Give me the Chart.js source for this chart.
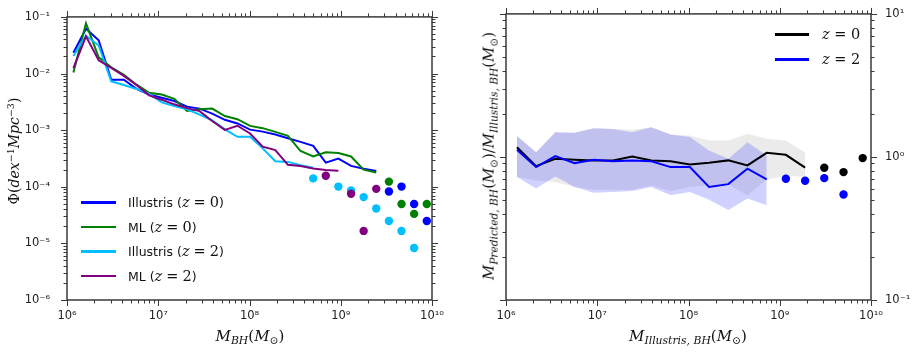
<!DOCTYPE html>
<html><head><meta charset="utf-8">
<script src="https://cdn.jsdelivr.net/npm/chart.js@4.4.0/dist/chart.umd.min.js"></script>
<style>
html,body{margin:0;padding:0;background:#fff;}
#wrap{position:relative;width:915px;height:355px;overflow:hidden;}
canvas{position:absolute;top:0;}
.t{position:absolute;font-family:'DejaVu Serif',serif;font-size:14px;color:#111;white-space:nowrap;line-height:1;}
.t i{font-style:italic;}
.t sub{font-size:72%;vertical-align:-0.35em;line-height:0;}
.t sup{font-size:68%;vertical-align:0.55em;line-height:0;}
.rot{transform:translate(-50%,-50%) rotate(-90deg);}
.ctr{transform:translate(-50%,-50%);}
.ln{position:absolute;height:2.5px;}
.lt{position:absolute;font-family:'DejaVu Sans',sans-serif;font-size:12.5px;color:#111;white-space:nowrap;transform:translateY(-50%);line-height:1;}
.m{font-family:'DejaVu Serif',serif;font-size:14.5px;}
.m i{font-style:italic;}
.eq{margin:0 4px;}
</style>
</head><body>
<div id="wrap">
  <canvas id="c1" width="460" height="355" style="left:0px"></canvas>
  <canvas id="c2" width="455" height="355" style="left:460px"></canvas>

  <div class="t rot" style="left:14px;top:151px;font-size:14px">Φ(<i>dex</i><sup>−1</sup><i>Mpc</i><sup>−3</sup>)</div>
  <div class="t ctr" style="left:250px;top:336px;font-size:15px"><i>M</i><sub><i>BH</i></sub>(<i>M</i><sub>⊙</sub>)</div>
  <div class="t rot" style="left:489px;top:156px;font-size:14.8px"><i>M</i><sub><i>Predicted, BH</i></sub>(<i>M</i><sub>⊙</sub>)/<i>M</i><sub><i>Illustris, BH</i></sub>(<i>M</i><sub>⊙</sub>)</div>
  <div class="t ctr" style="left:688px;top:336px;font-size:15px"><i>M</i><sub><i>Illustris, BH</i></sub>(<i>M</i><sub>⊙</sub>)</div>

  <div class="ln" style="left:81px;top:201px;width:35px;background:#0000ff"></div>
  <div class="lt" style="left:128px;top:202px">Illustris (<span class="m"><i>z</i><span class="eq">=</span>0</span>)</div>
  <div class="ln" style="left:81px;top:225.5px;width:35px;background:#008000"></div>
  <div class="lt" style="left:128px;top:226.5px">ML (<span class="m"><i>z</i><span class="eq">=</span>0</span>)</div>
  <div class="ln" style="left:81px;top:250px;width:35px;background:#00bfff"></div>
  <div class="lt" style="left:128px;top:251px">Illustris (<span class="m"><i>z</i><span class="eq">=</span>2</span>)</div>
  <div class="ln" style="left:81px;top:274.5px;width:35px;background:#800080"></div>
  <div class="lt" style="left:128px;top:275.5px">ML (<span class="m"><i>z</i><span class="eq">=</span>2</span>)</div>

  <div class="ln" style="left:775px;top:33px;width:34px;background:#000"></div>
  <div class="lt m" style="left:822px;top:34px;font-size:14.5px"><i>z</i> = 0</div>
  <div class="ln" style="left:775px;top:58px;width:34px;background:#0000ff"></div>
  <div class="lt m" style="left:822px;top:59px;font-size:14.5px"><i>z</i> = 2</div>
</div>
<script>
// ---------- Axis ticks ----------
const massTickValues = [1e6, 1e7, 1e8, 1e9, 1e10];
const massTickLabels = ['10⁶', '10⁷', '10⁸', '10⁹', '10¹⁰'];
const phiTickValues = [1e-6, 1e-5, 1e-4, 1e-3, 1e-2, 1e-1];
const phiTickLabels = ['10⁻⁶', '10⁻⁵', '10⁻⁴', '10⁻³', '10⁻²', '10⁻¹'];
const ratioTickValues = [0.1, 1, 10];
const ratioTickLabels = ['10⁻¹', '10⁰', '10¹'];

// ---------- Left panel: BH mass function (log10 values) ----------
const massLogBins = [6.07, 6.208, 6.347, 6.485, 6.623, 6.762, 6.9, 7.038, 7.176, 7.315, 7.453, 7.591, 7.73,
  7.868, 8.006, 8.145, 8.283, 8.421, 8.559, 8.698, 8.836, 8.974, 9.113, 9.251, 9.389];
const illustrisZ0LogPhi = [-1.632, -1.209, -1.413, -2.110, -2.110, -2.272, -2.371, -2.429, -2.486, -2.585, -2.620, -2.707, -2.817,
  -2.882, -2.991, -3.026, -3.078, -3.143, -3.207, -3.277, -3.573, -3.503, -3.631, -3.683, -3.721];
const mlZ0LogPhi = [-1.981, -1.113, -1.714, -1.889, -2.023, -2.197, -2.341, -2.371, -2.446, -2.660, -2.629, -2.620, -2.751,
  -2.807, -2.925, -2.965, -3.030, -3.099, -3.369, -3.465, -3.392, -3.404, -3.465, -3.697, -3.749];
const illustrisZ2LogPhi = [-1.692, -1.334, -1.505, -2.138, -2.202, -2.272, -2.359, -2.509, -2.573, -2.632, -2.725, -2.829, -2.986,
  -3.117, -3.117, -3.322, -3.549, -3.561, -3.618, -3.666];
const mlZ2LogPhi = [-1.906, -1.343, -1.767, -1.901, -2.042, -2.202, -2.385, -2.463, -2.544, -2.611, -2.664, -2.838, -2.995,
  -2.922, -3.059, -3.291, -3.352, -3.613, -3.634, -3.678, -3.706, -3.718];

// isolated points (low-count bins)
const illustrisZ0DotLogM = [9.528, 9.666, 9.804, 9.943];
const illustrisZ0DotLogPhi = [-4.084, -3.997, -4.305, -4.606];
const mlZ0DotLogM = [9.528, 9.666, 9.804, 9.943];
const mlZ0DotLogPhi = [-3.909, -4.305, -4.479, -4.305];
const illustrisZ2DotLogM = [8.698, 8.974, 9.113, 9.251, 9.389, 9.528, 9.666, 9.804];
const illustrisZ2DotLogPhi = [-3.852, -3.997, -4.066, -4.183, -4.385, -4.606, -4.780, -5.082];
const mlZ2DotLogM = [8.836, 9.113, 9.251, 9.389];
const mlZ2DotLogPhi = [-3.805, -4.124, -4.780, -4.037];

// ---------- Right panel: predicted / true mass ratio (log10 values) ----------
const ratioLogBins = [6.12, 6.33, 6.54, 6.752, 6.962, 7.172, 7.383, 7.594, 7.804, 8.015, 8.225, 8.436, 8.646, 8.857, 9.067, 9.278];
const ratioZ0Log = [0.068, -0.064, -0.013, -0.02, -0.024, -0.024, 0.003, -0.024, -0.03, -0.052, -0.04, -0.024, -0.059, 0.029, 0.015, -0.075];
const ratioZ0UpperLog = [0.146, 0.033, 0.173, 0.17, 0.2, 0.196, 0.19, 0.208, 0.157, 0.15, 0.115, 0.115, 0.162, 0.127, 0.115, 0.033];
const ratioZ0LowerLog = [-0.14, -0.164, -0.175, -0.21, -0.23, -0.23, -0.23, -0.2, -0.24, -0.21, -0.2, -0.19, -0.27, -0.16, -0.13, -0.14];
const ratioZ2Log = [0.05, -0.071, 0.006, -0.043, -0.02, -0.03, -0.024, -0.03, -0.071, -0.071, -0.21, -0.19, -0.082, -0.157];
const ratioZ2UpperLog = [0.146, 0.033, 0.173, 0.17, 0.2, 0.196, 0.173, 0.208, 0.157, 0.14, 0.045, -0.012, 0.103, 0.01];
const ratioZ2LowerLog = [-0.14, -0.22, -0.136, -0.21, -0.25, -0.245, -0.238, -0.21, -0.268, -0.245, -0.30, -0.37, -0.29, -0.338];
const ratioZ0DotLogM = [9.488, 9.699, 9.909];
const ratioZ0DotLog = [-0.075, -0.106, -0.008];
const ratioZ2DotLogM = [9.067, 9.278, 9.488, 9.699];
const ratioZ2DotLog = [-0.152, -0.166, -0.148, -0.263];

// ---------- helpers ----------
const pts = (logX, logY) => logY.map((v, i) => ({ x: Math.pow(10, logX[i]), y: Math.pow(10, v) }));

function minorVals(min, max) {
  const out = [];
  for (let e = Math.floor(Math.log10(min)); e < Math.ceil(Math.log10(max)); e++)
    for (let k = 2; k <= 9; k++) { const v = k * Math.pow(10, e); if (v > min * 1.0001 && v < max * 0.9999) out.push(v); }
  return out;
}

const framePlugin = {
  id: 'frame',
  afterDraw(chart) {
    const { ctx, chartArea: a } = chart;
    const xs = chart.scales.x, ys = chart.scales.y;
    ctx.save();
    ctx.strokeStyle = '#3a3a3a';
    ctx.lineWidth = 1;
    const seg = (x1, y1, x2, y2) => { ctx.beginPath(); ctx.moveTo(x1, y1); ctx.lineTo(x2, y2); ctx.stroke(); };
    const MAJ = 6, MIN = 3.5;
    const xt = (v, len) => { const p = Math.round(xs.getPixelForValue(v)) + 0.5; seg(p, a.bottom, p, a.bottom + len); seg(p, a.top, p, a.top - len); };
    const yt = (v, len) => { const p = Math.round(ys.getPixelForValue(v)) + 0.5; seg(a.left, p, a.left - len, p); seg(a.right, p, a.right + len, p); };
    xs.ticks.forEach(t => xt(t.value, MAJ));
    minorVals(xs.min, xs.max).forEach(v => xt(v, MIN));
    ys.ticks.forEach(t => yt(t.value, MAJ));
    minorVals(ys.min, ys.max).forEach(v => yt(v, MIN));
    ctx.lineWidth = 1.5;
    ctx.strokeRect(a.left, a.top, a.right - a.left, a.bottom - a.top);
    ctx.restore();
  }
};

const tickFont = { family: "'DejaVu Sans', sans-serif", size: 11.5 };

function logAxis(opts) {
  return {
    type: 'logarithmic',
    position: opts.position,
    min: opts.min, max: opts.max,
    grid: { display: false, drawTicks: true, tickLength: opts.tl },
    border: { display: false },
    afterBuildTicks: (s) => { s.ticks = opts.values.map(v => ({ value: v })); },
    afterFit: (s) => { if (opts.width !== undefined) s.width = opts.width; if (opts.height !== undefined) s.height = opts.height; },
    ticks: {
      autoSkip: false, maxRotation: 0, minRotation: 0, padding: opts.pad,
      color: '#222', font: tickFont,
      callback: (v, i) => opts.labels[i]
    }
  };
}

const baseOpts = {
  responsive: false, animation: false, events: [],
  plugins: { legend: { display: false }, tooltip: { enabled: false }, filler: { drawTime: 'beforeDatasetsDraw' } },
  elements: { line: { tension: 0 } }
};

const lineDs = (data, color, order, w) => ({ data, borderColor: color, backgroundColor: color, borderWidth: w, pointRadius: 0, fill: false, order });
const dotDs = (data, color, order) => ({ data, showLine: false, borderWidth: 0, pointRadius: 4.2, pointBackgroundColor: color, pointBorderColor: color, backgroundColor: color, order });

// ---------- Left chart ----------
new Chart(document.getElementById('c1'), {
  type: 'line',
  data: {
    datasets: [
      lineDs(pts(massLogBins, illustrisZ0LogPhi), '#0000ff', 8, 2),
      lineDs(pts(massLogBins, mlZ0LogPhi), '#008000', 7, 2),
      lineDs(pts(massLogBins, illustrisZ2LogPhi), '#00bfff', 6, 2),
      lineDs(pts(massLogBins, mlZ2LogPhi), '#800080', 5, 2),
      dotDs(pts(illustrisZ0DotLogM, illustrisZ0DotLogPhi), '#0000ff', 4),
      dotDs(pts(mlZ0DotLogM, mlZ0DotLogPhi), '#008000', 3),
      dotDs(pts(illustrisZ2DotLogM, illustrisZ2DotLogPhi), '#00bfff', 2),
      dotDs(pts(mlZ2DotLogM, mlZ2DotLogPhi), '#800080', 1)
    ]
  },
  options: Object.assign({}, baseOpts, {
    layout: { padding: { left: 0, right: 28, top: 13, bottom: 0 } },
    scales: {
      x: logAxis({ position: 'bottom', min: 1e6, max: 1e10, values: massTickValues, labels: massTickLabels, tl: 7, pad: 2, height: 55 }),
      y: logAxis({ position: 'left', min: 1e-6, max: 1e-1, values: phiTickValues, labels: phiTickLabels, tl: 7, pad: 10, width: 67 })
    }
  }),
  plugins: [framePlugin]
});

// ---------- Right chart ----------
new Chart(document.getElementById('c2'), {
  type: 'line',
  data: {
    datasets: [
      { data: pts(ratioLogBins, ratioZ0UpperLog), borderWidth: 0, pointRadius: 0, fill: '+1', backgroundColor: 'rgba(0,0,0,0.08)', borderColor: 'rgba(0,0,0,0)', order: 20 },
      { data: pts(ratioLogBins, ratioZ0LowerLog), borderWidth: 0, pointRadius: 0, fill: false, borderColor: 'rgba(0,0,0,0)', order: 19 },
      { data: pts(ratioLogBins, ratioZ2UpperLog), borderWidth: 0, pointRadius: 0, fill: '+1', backgroundColor: 'rgba(0,0,255,0.18)', borderColor: 'rgba(0,0,0,0)', order: 18 },
      { data: pts(ratioLogBins, ratioZ2LowerLog), borderWidth: 0, pointRadius: 0, fill: false, borderColor: 'rgba(0,0,0,0)', order: 17 },
      lineDs(pts(ratioLogBins, ratioZ0Log), '#000000', 6, 2),
      lineDs(pts(ratioLogBins, ratioZ2Log), '#0000ff', 5, 2),
      dotDs(pts(ratioZ0DotLogM, ratioZ0DotLog), '#000000', 4),
      dotDs(pts(ratioZ2DotLogM, ratioZ2DotLog), '#0000ff', 3)
    ]
  },
  options: Object.assign({}, baseOpts, {
    layout: { padding: { left: 46, right: 0, top: 13, bottom: 0 } },
    scales: {
      x: logAxis({ position: 'bottom', min: 1e6, max: 1e10, values: massTickValues, labels: massTickLabels, tl: 7, pad: 2, height: 55 }),
      y: logAxis({ position: 'right', min: 0.1, max: 10, values: ratioTickValues, labels: ratioTickLabels, tl: 7, pad: 7, width: 44 })
    }
  }),
  plugins: [framePlugin]
});
</script>
</body></html>
